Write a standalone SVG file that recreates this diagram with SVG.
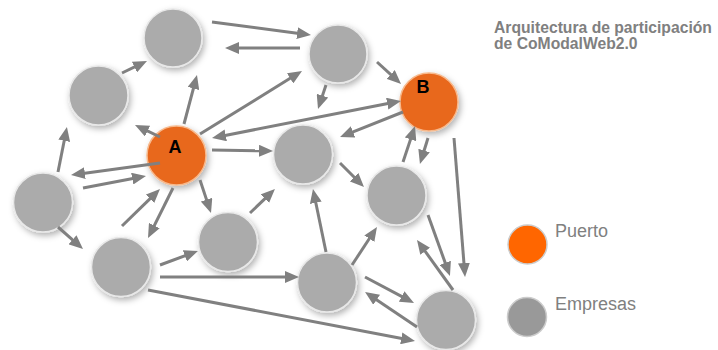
<svg xmlns="http://www.w3.org/2000/svg" width="718" height="350" viewBox="0 0 718 350">
<style>
.node{fill:#ABABAB;stroke:#E8E8E8;stroke-width:1.5;filter:url(#sh)}
.port{fill:#E8671E;stroke:#F7B98C;stroke-width:1.5;filter:url(#sh)}
.lbl{font-family:"Liberation Sans",Arial,sans-serif;font-weight:bold;font-size:18px;fill:#000;text-anchor:middle}
.c line{stroke:#808080;stroke-width:3;marker-end:url(#ah)}
.title{font-family:"Liberation Sans",Arial,sans-serif;font-weight:bold;font-size:15.7px;fill:#808080}
.leg{font-family:"Liberation Sans",Arial,sans-serif;font-size:18px;fill:#808080}
</style>
<defs>
<filter id="sh" x="-40%" y="-40%" width="180%" height="180%">
<feDropShadow dx="2" dy="3" stdDeviation="3" flood-color="#000" flood-opacity="0.3"/>
</filter>
<marker id="ah" viewBox="0 0 14 12" refX="2" refY="6" markerWidth="14" markerHeight="12" markerUnits="userSpaceOnUse" orient="auto-start-reverse">
<path d="M0,0 L14,6 L0,12 z" fill="#808080"/>
</marker>
</defs>
<rect width="718" height="350" fill="#fff"/>
<g id="n1"><circle class="node" cx="173" cy="38" r="29"/></g>
<g id="n2"><circle class="node" cx="338" cy="54" r="29"/></g>
<g id="n3"><circle class="node" cx="98.5" cy="95.5" r="29.5"/></g>
<g id="nA"><circle class="port" cx="176.5" cy="155.5" r="29.5"/><text class="lbl" x="175" y="153">A</text></g>
<g id="nB"><circle class="port" cx="429" cy="102" r="29"/><text class="lbl" x="423" y="93">B</text></g>
<g id="n4"><circle class="node" cx="43" cy="202.5" r="29.5"/></g>
<g id="n5"><circle class="node" cx="121" cy="267" r="29.5"/></g>
<g id="n6"><circle class="node" cx="303" cy="154.5" r="29.5"/></g>
<g id="n7"><circle class="node" cx="228" cy="242" r="29.5"/></g>
<g id="n8"><circle class="node" cx="396.5" cy="195.5" r="29.5"/></g>
<g id="n9"><circle class="node" cx="327" cy="282.5" r="29.5"/></g>
<g id="n10"><circle class="node" cx="446" cy="320" r="29.5"/></g>
<g id="connectors" class="c">
<line x1="212" y1="22" x2="299.1" y2="33.4"/>
<line x1="300" y1="48" x2="237" y2="48"/>
<line x1="122" y1="73" x2="136.2" y2="66.2"/>
<line x1="184" y1="124" x2="193.9" y2="86.6"/>
<line x1="160" y1="137" x2="145.8" y2="130.2"/>
<line x1="58" y1="172" x2="64.6" y2="138.8"/>
<line x1="160" y1="163" x2="82.9" y2="173.4"/>
<line x1="83" y1="188" x2="134.2" y2="178.2"/>
<line x1="58" y1="227" x2="74" y2="241.1"/>
<line x1="122" y1="226" x2="151.4" y2="197.4"/>
<line x1="173" y1="188" x2="153.4" y2="227.3"/>
<line x1="200" y1="134" x2="291.8" y2="77.3"/>
<line x1="223.8" y1="135.7" x2="389.2" y2="103.3" style="marker-start:url(#ah)"/>
<line x1="403" y1="112" x2="351.2" y2="132.6"/>
<line x1="377" y1="62" x2="392.2" y2="75.9"/>
<line x1="326" y1="85" x2="321.8" y2="97.6"/>
<line x1="212" y1="150" x2="261" y2="150.8"/>
<line x1="340" y1="163" x2="355.5" y2="178.5"/>
<line x1="403" y1="162" x2="411.2" y2="137.4"/>
<line x1="428" y1="138" x2="423.5" y2="152.5"/>
<line x1="454" y1="138" x2="464.1" y2="265"/>
<line x1="428" y1="215" x2="445.9" y2="264.7"/>
<line x1="453" y1="290" x2="424" y2="249.7"/>
<line x1="326" y1="252" x2="315.4" y2="200.8"/>
<line x1="352" y1="265" x2="370.4" y2="237"/>
<line x1="365" y1="277" x2="403.4" y2="297.4"/>
<line x1="417" y1="327" x2="375" y2="298.7"/>
<line x1="148" y1="290" x2="403.2" y2="338.7"/>
<line x1="160" y1="277" x2="287" y2="277"/>
<line x1="160" y1="265" x2="186.7" y2="255.1"/>
<line x1="200" y1="180" x2="207.2" y2="201.6"/>
<line x1="250" y1="213" x2="266.3" y2="197.3"/>
</g>
<g id="title">
<text class="title" x="494" y="33">Arquitectura de participación</text>
<text class="title" x="494" y="49">de CoModalWeb2.0</text>
</g>
<g id="legend-puerto"><circle cx="527.5" cy="244.5" r="19.5" fill="#FF6600" stroke="#CCCCCC" stroke-width="1.5"/><text class="leg" x="555" y="237">Puerto</text></g>
<g id="legend-empresas"><circle cx="527" cy="317" r="19.5" fill="#999999" stroke="#CCCCCC" stroke-width="1.5"/><text class="leg" x="555" y="310">Empresas</text></g>
</svg>
